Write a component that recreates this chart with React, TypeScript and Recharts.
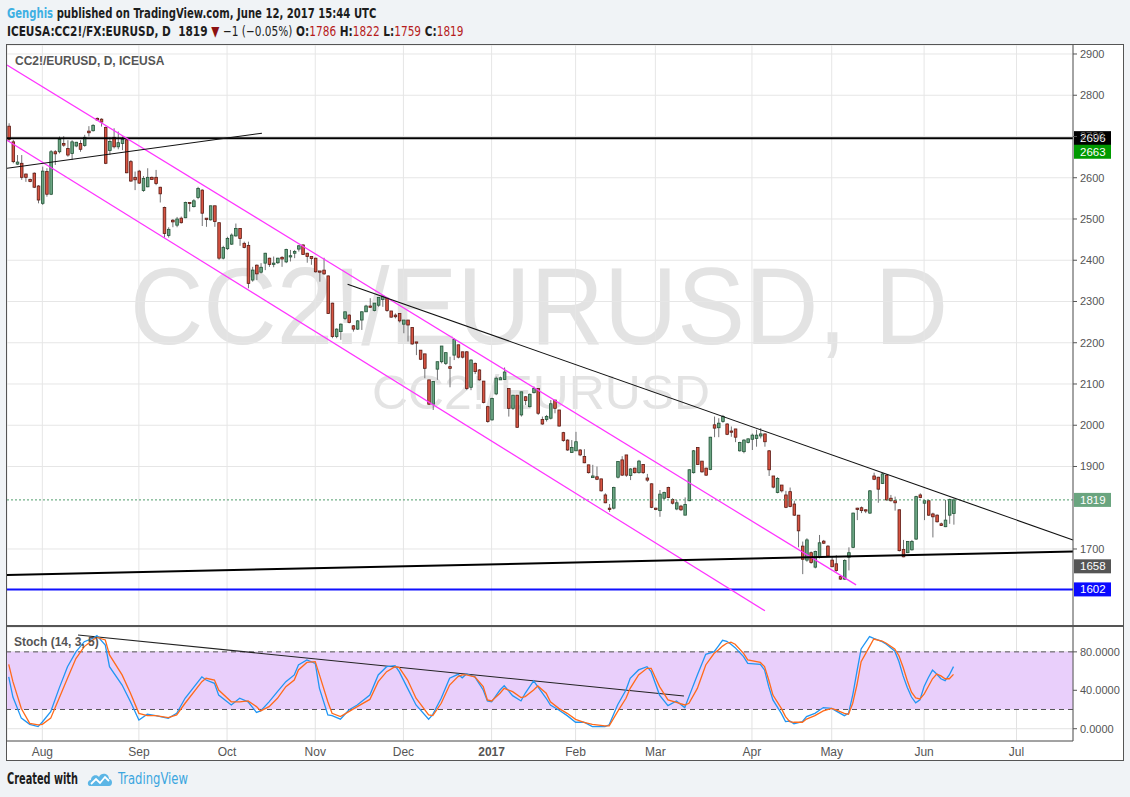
import React from 'react';
import { ComposedChart, Bar, Line, XAxis, YAxis, CartesianGrid, ReferenceLine, ReferenceArea } from 'recharts';

// Daily candles, index 0 = 20 Jul 2016, index 225 = 12 Jun 2017
const candleOpen = [
  2725, 2687, 2633, 2635, 2609, 2596, 2611, 2580, 2538, 2615,
  2560, 2663, 2663, 2683, 2671, 2659, 2677, 2683, 2678, 2713,
  2714, 2744, 2742, 2722, 2666, 2698, 2675, 2683, 2692, 2639,
  2601, 2616, 2569, 2578, 2601, 2601, 2577, 2528, 2460, 2497,
  2485, 2502, 2503, 2540, 2530, 2552, 2570, 2502, 2498, 2532,
  2491, 2405, 2428, 2439, 2459, 2477, 2441, 2436, 2352, 2388,
  2371, 2393, 2405, 2390, 2394, 2407, 2396, 2408, 2417, 2427,
  2437, 2417, 2409, 2405, 2374, 2376, 2362, 2296, 2215, 2227,
  2259, 2267, 2241, 2233, 2255, 2275, 2289, 2278, 2291, 2305,
  2308, 2277, 2267, 2271, 2245, 2255, 2237, 2202, 2182, 2173,
  2110, 2051, 2136, 2154, 2150, 2142, 2170, 2195, 2178, 2178,
  2092, 2150, 2134, 2107, 2045, 2013, 2076, 2110, 2111, 2089,
  2041, 2073, 2025, 2069, 2045, 2079, 2089, 2014, 2014, 2017,
  2061, 2037, 1982, 1964, 1934, 1938, 1940, 1924, 1904, 1873,
  1875, 1870, 1831, 1799, 1799, 1874, 1916, 1928, 1878, 1896,
  1885, 1905, 1872, 1858, 1799, 1793, 1823, 1849, 1820, 1797,
  1804, 1782, 1817, 1885, 1946, 1913, 1896, 1893, 2001, 1994,
  2009, 2003, 1986, 1991, 1938, 1936, 1958, 1966, 1968, 1974,
  1979, 1938, 1877, 1837, 1855, 1831, 1839, 1809, 1782, 1707,
  1673, 1691, 1656, 1681, 1719, 1707, 1673, 1664, 1633, 1627,
  1680, 1704, 1799, 1800, 1795, 1787, 1877, 1874, 1859, 1879,
  1823, 1817, 1795, 1699, 1691, 1698, 1724, 1831, 1811, 1817,
  1785, 1782, 1761, 1754, 1782, 1786,
];
const candleHigh = [
  2732, 2692, 2655, 2655, 2610, 2598, 2613, 2582, 2627, 2623,
  2667, 2667, 2700, 2701, 2691, 2691, 2687, 2691, 2704, 2725,
  2730, 2746, 2744, 2724, 2698, 2720, 2712, 2700, 2696, 2643,
  2615, 2619, 2604, 2623, 2603, 2619, 2578, 2530, 2480, 2500,
  2505, 2506, 2542, 2540, 2548, 2578, 2572, 2502, 2532, 2532,
  2491, 2435, 2457, 2465, 2489, 2477, 2445, 2445, 2384, 2390,
  2393, 2418, 2406, 2409, 2406, 2410, 2428, 2425, 2425, 2437,
  2439, 2418, 2409, 2406, 2374, 2406, 2363, 2297, 2235, 2247,
  2275, 2269, 2243, 2255, 2276, 2292, 2308, 2296, 2310, 2316,
  2308, 2277, 2271, 2271, 2255, 2255, 2237, 2202, 2182, 2173,
  2110, 2106, 2154, 2192, 2176, 2166, 2211, 2195, 2178, 2180,
  2160, 2152, 2136, 2107, 2047, 2067, 2118, 2118, 2140, 2089,
  2073, 2073, 2081, 2071, 2077, 2094, 2089, 2021, 2025, 2061,
  2061, 2037, 1984, 1966, 1964, 1984, 1942, 1942, 1904, 1904,
  1900, 1870, 1835, 1809, 1851, 1912, 1925, 1928, 1896, 1897,
  1916, 1905, 1882, 1859, 1800, 1843, 1839, 1851, 1823, 1819,
  1807, 1825, 1893, 1940, 1946, 1913, 1897, 1972, 2021, 2017,
  2025, 2005, 1997, 1991, 1960, 1966, 1968, 1980, 1989, 1993,
  1980, 1940, 1877, 1874, 1855, 1841, 1849, 1817, 1782, 1718,
  1726, 1694, 1696, 1734, 1722, 1709, 1681, 1685, 1635, 1675,
  1704, 1788, 1800, 1803, 1796, 1843, 1885, 1875, 1884, 1881,
  1831, 1827, 1796, 1722, 1719, 1722, 1829, 1835, 1819, 1819,
  1788, 1784, 1764, 1819, 1822, 1822,
];
const candleLow = [
  2687, 2635, 2631, 2595, 2590, 2589, 2575, 2538, 2534, 2554,
  2558, 2631, 2659, 2675, 2651, 2643, 2674, 2663, 2675, 2700,
  2712, 2738, 2724, 2633, 2655, 2671, 2669, 2667, 2611, 2590,
  2570, 2585, 2566, 2577, 2595, 2582, 2540, 2455, 2455, 2480,
  2480, 2489, 2502, 2518, 2528, 2548, 2483, 2481, 2496, 2481,
  2401, 2402, 2425, 2437, 2457, 2435, 2429, 2332, 2348, 2352,
  2368, 2376, 2384, 2383, 2391, 2384, 2393, 2397, 2405, 2421,
  2413, 2394, 2389, 2370, 2348, 2364, 2270, 2211, 2211, 2207,
  2255, 2247, 2227, 2231, 2231, 2275, 2284, 2276, 2287, 2287,
  2275, 2261, 2259, 2249, 2223, 2203, 2195, 2170, 2158, 2114,
  2049, 2037, 2110, 2150, 2146, 2092, 2158, 2162, 2162, 2085,
  2085, 2124, 2108, 2053, 2006, 2011, 2073, 2110, 2110, 2021,
  2037, 1994, 2021, 2049, 2043, 2077, 2025, 2001, 2009, 2014,
  2029, 1997, 1960, 1938, 1933, 1938, 1925, 1908, 1883, 1873,
  1867, 1839, 1811, 1790, 1796, 1871, 1877, 1875, 1867, 1883,
  1883, 1882, 1863, 1799, 1794, 1778, 1820, 1823, 1808, 1794,
  1792, 1782, 1816, 1883, 1904, 1885, 1877, 1891, 1971, 1971,
  2006, 1976, 1972, 1959, 1936, 1932, 1956, 1940, 1948, 1968,
  1948, 1877, 1847, 1835, 1837, 1799, 1801, 1780, 1704, 1639,
  1669, 1664, 1653, 1677, 1712, 1681, 1656, 1645, 1625, 1625,
  1648, 1702, 1770, 1787, 1787, 1785, 1867, 1812, 1858, 1817,
  1815, 1793, 1694, 1680, 1690, 1696, 1722, 1823, 1770, 1780,
  1728, 1764, 1756, 1753, 1761, 1759,
];
const candleClose = [
  2693, 2639, 2638, 2601, 2601, 2591, 2577, 2546, 2616, 2560,
  2663, 2658, 2693, 2679, 2655, 2687, 2686, 2669, 2698, 2709,
  2727, 2740, 2735, 2635, 2688, 2675, 2685, 2693, 2612, 2592,
  2595, 2587, 2598, 2601, 2596, 2586, 2561, 2465, 2475, 2493,
  2500, 2491, 2540, 2538, 2544, 2574, 2514, 2499, 2532, 2494,
  2405, 2431, 2453, 2461, 2477, 2453, 2431, 2344, 2376, 2367,
  2383, 2417, 2390, 2393, 2405, 2403, 2426, 2411, 2421, 2435,
  2414, 2409, 2404, 2372, 2371, 2367, 2271, 2215, 2233, 2245,
  2275, 2249, 2233, 2253, 2275, 2289, 2286, 2296, 2310, 2313,
  2278, 2262, 2263, 2253, 2255, 2243, 2197, 2199, 2160, 2138,
  2051, 2106, 2154, 2192, 2176, 2138, 2208, 2165, 2165, 2089,
  2158, 2130, 2110, 2055, 2009, 2065, 2114, 2115, 2129, 2041,
  2073, 1995, 2081, 2060, 2075, 2089, 2029, 2003, 2021, 2052,
  2041, 1998, 1963, 1940, 1946, 1960, 1928, 1909, 1885, 1877,
  1869, 1841, 1812, 1796, 1849, 1912, 1879, 1879, 1894, 1885,
  1913, 1885, 1867, 1801, 1796, 1833, 1837, 1825, 1811, 1812,
  1795, 1808, 1892, 1938, 1905, 1887, 1879, 1971, 1993, 2005,
  2021, 1978, 1983, 1971, 1958, 1964, 1967, 1976, 1976, 1979,
  1960, 1892, 1850, 1871, 1841, 1801, 1803, 1782, 1744, 1675,
  1722, 1667, 1694, 1715, 1714, 1683, 1657, 1648, 1627, 1672,
  1691, 1787, 1796, 1793, 1792, 1841, 1869, 1845, 1882, 1819,
  1817, 1812, 1696, 1681, 1718, 1718, 1827, 1825, 1817, 1782,
  1778, 1766, 1757, 1770, 1820, 1819,
];

// Stochastic (14, 3, 5)
const stochIdx = [
  0, 1, 3, 5, 7, 8, 10, 12, 14, 16, 18, 20, 21, 23, 24, 27, 29, 31, 33, 35,
  38, 40, 42, 46, 47, 49, 50, 53, 55, 57, 59, 60, 62, 64, 66, 68, 69, 71, 73, 74,
  76, 77, 79, 81, 83, 86, 88, 90, 92, 93, 95, 97, 100, 101, 103, 105, 107, 108, 109, 111,
  113, 114, 115, 117, 118, 120, 122, 123, 125, 126, 128, 129, 131, 133, 135, 137, 139, 142, 143, 145,
  147, 148, 150, 152, 153, 155, 157, 159, 161, 162, 164, 166, 168, 169, 170, 171, 172, 173, 175, 176,
  179, 180, 181, 182, 184, 185, 186, 187, 189, 190, 192, 194, 196, 197, 199, 200, 201, 202, 203, 205,
  206, 208, 209, 211, 212, 213, 214, 215, 216, 217, 218, 219, 220, 221, 222, 223, 224, 225,
];
const stochK = [
  54, 33, 11, 4.6, 2.2, 7, 17.8, 42, 64.6, 80, 90.6, 94, 97, 87, 64.6, 45.5, 28, 9, 15, 13.6,
  10.8, 16, 31.7, 54, 50.7, 47.3, 35, 24.7, 31.7, 28, 17, 18.5, 28, 38.6, 49, 56, 66.4, 71.6, 68, 42,
  14.3, 13.6, 10, 19.5, 24.7, 35, 56, 64.6, 65.7, 59.4, 42, 24.7, 9.8, 15, 31.7, 52.5, 56.6, 53, 57, 54,
  40.3, 28.9, 28, 40.3, 44.8, 34.4, 28.9, 36.9, 49.7, 43.8, 31.7, 24.7, 19.5, 13.6, 6.7, 6.7, 2.2, 2.2, 4, 24.7,
  40.3, 52.5, 61.2, 64.6, 59.4, 35, 24, 28.9, 22, 33.4, 56, 77.5, 80.2, 86, 92, 91, 88, 84.4, 75, 68,
  67, 61.2, 43.8, 30, 16, 7.4, 8, 5, 7.4, 12.6, 16, 22, 21.2, 18.5, 13.6, 16, 35, 59.4, 83, 95.9,
  94, 90.6, 88, 81, 70, 55, 43, 33, 27, 30, 44, 53, 61, 57, 52, 50, 56, 64.6,
];
const stochD = [
  67, 49, 21, 5.6, 4, 4.6, 11, 31.7, 52.5, 73, 85.5, 92.4, 95, 92.4, 76.8, 56, 36.9, 16, 13.6, 13.6,
  11.5, 14.3, 26.5, 49, 52.5, 50.7, 40.3, 28, 28, 28.9, 23, 18.5, 23, 31.7, 43.8, 50.7, 61.2, 69, 69.8, 56,
  28, 16, 12.6, 17.8, 23, 30.5, 49, 59.4, 64.6, 63.6, 50.7, 31.7, 14.3, 13.6, 26.5, 45.5, 54.2, 56, 56, 54,
  43.8, 30, 28.9, 36.9, 42, 38.6, 32.4, 33.4, 40.3, 44.5, 36.9, 28, 21.2, 16, 9.8, 6.7, 4.6, 2.9, 2.9, 17.8,
  31.7, 42, 56, 62.9, 62.9, 43.8, 30, 27.5, 24.7, 26.5, 42, 66.4, 78.5, 82, 86, 89, 90, 88, 78.5, 71.6,
  69, 64.6, 50.7, 35, 21.2, 12.6, 7.4, 6.7, 6.7, 10, 13.6, 18.5, 21.2, 19.5, 16, 15, 26.5, 45.5, 69.8, 85.5,
  93.4, 91.3, 89, 83, 76, 64, 50, 38, 32, 31, 36, 44, 52, 57, 55, 52, 52, 56.6,
];

const monthIdx = [8, 31, 52, 73, 94, 115, 135, 154, 177, 196, 218, 240];
const monthLabels = ['Aug', 'Sep', 'Oct', 'Nov', 'Dec', '2017', 'Feb', 'Mar', 'Apr', 'May', 'Jun', 'Jul'];
const priceTicks = [1700, 1900, 2000, 2100, 2200, 2300, 2400, 2500, 2600, 2700, 2800, 2900];
const stochTicks = [0, 40, 80];

// drawn trendlines: [x1, y1, x2, y2] in bar index / price
const magentaLines = [
  [-0.41, 2873, 201.8, 1613],
  [-0.41, 2691, 180.1, 1550],
];
const blackThinLines = [
  [-0.41, 2623, 60.3, 2708],
  [80.7, 2342, 253.46, 1722],
];
const blackThickLine = [-0.41, 1637, 253.46, 1694];
const stochTrend = [16.5, 97.6, 160.8, 34];

const candles = candleOpen.map((o, i) => ({
  i,
  open: o,
  high: candleHigh[i],
  low: candleLow[i],
  close: candleClose[i],
}));
const stoch = stochIdx.map((i, n) => ({ i, k: stochK[n], d: stochD[n] }));

const X_DOMAIN: [number, number] = [-0.41, 253.46];
const PRICE_DOMAIN: [number, number] = [1513.3, 2921.8];
const STOCH_DOMAIN: [number, number] = [-12.8, 105.9];

const UI_FONT = "'Liberation Sans', Arial, sans-serif";
const NARROW_FONT = "'Liberation Sans Narrow', 'DejaVu Sans Condensed', sans-serif";

const Candle = (props: any) => {
  const { x, y, width, height, payload } = props;
  if (!payload) return null;
  const { open, close, high, low } = payload;
  const cx = x + width / 2;
  const h = Math.abs(height);
  const top = height >= 0 ? y : y + height;
  const ratio = high === low ? 0 : h / (high - low);
  const yOpen = top + (high - open) * ratio;
  const yClose = top + (high - close) * ratio;
  const up = close >= open;
  const bodyTop = Math.min(yOpen, yClose);
  const bodyH = Math.max(1, Math.abs(yOpen - yClose));
  return (
    <g>
      <line x1={cx} x2={cx} y1={top} y2={top + h} stroke="#737375" strokeWidth={1} />
      <rect
        x={cx - 1.3}
        y={bodyTop}
        width={2.6}
        height={bodyH}
        fill={up ? '#6ba583' : '#d75442'}
        stroke={up ? '#225437' : '#5b1a13'}
        strokeWidth={0.8}
      />
    </g>
  );
};

const PriceTag = (props: any) => {
  const { viewBox, text, bg } = props;
  if (!viewBox) return null;
  const x = viewBox.x + viewBox.width;
  const y = viewBox.y;
  return (
    <g>
      <rect x={x + 1} y={y - 7} width={37} height={14} fill={bg} />
      <text x={x + 7} y={y + 4} fill="#fff" fontSize={11.5} fontFamily={UI_FONT}>
        {text}
      </text>
    </g>
  );
};

const MonthTick = (props: any) => {
  const { x, y, payload } = props;
  const label = monthLabels[monthIdx.indexOf(payload.value)];
  return (
    <text
      x={x}
      y={y}
      dy={15}
      textAnchor="middle"
      fill="#555"
      fontSize={12}
      fontFamily={UI_FONT}
      fontWeight={label === '2017' ? 700 : 400}
    >
      {label}
    </text>
  );
};

const seg = (l: number[]) => [
  { x: l[0], y: l[1] },
  { x: l[2], y: l[3] },
];

const RED = '#b71c1c';
const headerStyle: React.CSSProperties = {
  position: 'absolute',
  left: 7,
  fontFamily: NARROW_FONT,
  fontSize: 14,
  fontWeight: 700,
  color: '#1d1d1d',
  whiteSpace: 'nowrap',
  transformOrigin: 'left top',
  lineHeight: '18px',
};

const App = () => {
  return (
    <div style={{ position: 'absolute', left: 0, top: 0, width: 1130, height: 797, background: '#f0f3f6', overflow: 'hidden' }}>
      {/* header */}
      <div style={{ ...headerStyle, top: 4, transform: 'scaleX(0.8)' }}>
        <span style={{ color: '#3fb0e3' }}>Genghis</span> published on TradingView.com, June 12, 2017 15:44 UTC
      </div>
      <div style={{ ...headerStyle, top: 22, transform: 'scaleX(0.837)' }}>
        ICEUSA:CC2!/FX:EURUSD, D&nbsp; 1819 <span style={{ color: '#8b1010' }}>▼</span>{' '}
        <span style={{ fontWeight: 400 }}>−1 (−0.05%)</span> O:<span style={{ color: RED, fontWeight: 400 }}>1786</span> H:
        <span style={{ color: RED, fontWeight: 400 }}>1822</span> L:<span style={{ color: RED, fontWeight: 400 }}>1759</span> C:
        <span style={{ color: RED, fontWeight: 400 }}>1819</span>
      </div>

      {/* chart frame */}
      <div style={{ position: 'absolute', left: 6, top: 44, width: 1118, height: 717, background: '#fff', border: '1px solid #555', boxSizing: 'border-box' }} />

      {/* watermark */}
      <svg width={1130} height={797} style={{ position: 'absolute', left: 0, top: 0 }}>
        <text x={130} y={344} fontSize={109} fontFamily={UI_FONT} fill="#e3e3e3" textLength={818} lengthAdjust="spacingAndGlyphs">
          CC2!/EURUSD, D
        </text>
        <text x={372} y={409} fontSize={47.5} fontFamily={UI_FONT} fill="#e3e3e3" textLength={338} lengthAdjust="spacingAndGlyphs">
          CC2!/EURUSD
        </text>
      </svg>

      {/* price pane */}
      <div style={{ position: 'absolute', left: 7, top: 45 }}>
        <ComposedChart width={1116} height={581} data={candles} margin={{ top: 0, right: 0, bottom: 0, left: 0 }}>
          <CartesianGrid stroke="#e6e6e6" />
          <XAxis dataKey="i" type="number" domain={X_DOMAIN} ticks={monthIdx} allowDataOverflow hide />
          <YAxis
            orientation="right"
            width={50}
            domain={PRICE_DOMAIN}
            ticks={priceTicks}
            interval={0}
            allowDataOverflow
            stroke="#555"
            tickSize={4}
            tickMargin={3}
            tick={{ fill: '#555', fontSize: 11, fontFamily: UI_FONT }}
          />
          <ReferenceLine y={2696} stroke="#000" strokeWidth={2} label={<PriceTag text="2696" bg="#000" />} />
          <ReferenceLine y={2663} stroke="transparent" label={<PriceTag text="2663" bg="#009a00" />} />
          <ReferenceLine y={1819} stroke="#4f9d6c" strokeDasharray="2 2" label={<PriceTag text="1819" bg="#6aa57f" />} />
          <ReferenceLine y={1658} stroke="transparent" label={<PriceTag text="1658" bg="#555" />} />
          <ReferenceLine y={1602} stroke="#1010ff" strokeWidth={2} label={<PriceTag text="1602" bg="#0a0aff" />} />
          {magentaLines.map((l, n) => (
            <ReferenceLine key={`m${n}`} segment={seg(l)} stroke="#ff33ff" strokeWidth={1.2} ifOverflow="visible" />
          ))}
          {blackThinLines.map((l, n) => (
            <ReferenceLine key={`b${n}`} segment={seg(l)} stroke="#111" strokeWidth={1.1} ifOverflow="visible" />
          ))}
          <ReferenceLine segment={seg(blackThickLine)} stroke="#000" strokeWidth={2} ifOverflow="visible" />
          <Bar
            dataKey={(d: any) => [d.low, d.high]}
            shape={(p: any) => <Candle {...p} />}
            isAnimationActive={false}
            barSize={3}
          />
        </ComposedChart>
      </div>

      {/* stochastic pane */}
      <div style={{ position: 'absolute', left: 7, top: 627 }}>
        <ComposedChart width={1116} height={133} data={stoch} margin={{ top: 0, right: 0, bottom: 0, left: 0 }}>
          <ReferenceArea y1={20} y2={80} fill="#e9cffb" fillOpacity={1} stroke="none" />
          <CartesianGrid stroke="#e2e2e2" />
          <XAxis
            dataKey="i"
            type="number"
            domain={X_DOMAIN}
            ticks={monthIdx}
            interval={0}
            allowDataOverflow
            height={19}
            stroke="#555"
            tickLine={false}
            tickSize={0}
            tickMargin={0}
            tick={<MonthTick />}
          />
          <YAxis
            orientation="right"
            width={50}
            domain={STOCH_DOMAIN}
            ticks={stochTicks}
            interval={0}
            allowDataOverflow
            stroke="#555"
            tickSize={4}
            tickMargin={3}
            tick={{ fill: '#555', fontSize: 11, fontFamily: UI_FONT }}
            tickFormatter={(v: number) => v.toFixed(4)}
          />
          <ReferenceLine y={80} stroke="#555" strokeDasharray="5 4" />
          <ReferenceLine y={20} stroke="#555" strokeDasharray="5 4" />
          <ReferenceLine segment={seg(stochTrend)} stroke="#222" strokeWidth={1.1} ifOverflow="visible" />
          <Line dataKey="k" type="linear" stroke="#2196f3" strokeWidth={1.3} dot={false} isAnimationActive={false} />
          <Line dataKey="d" type="linear" stroke="#ff6a1a" strokeWidth={1.3} dot={false} isAnimationActive={false} />
        </ComposedChart>
      </div>

      {/* pane separator */}
      <div style={{ position: 'absolute', left: 6, top: 625, width: 1118, height: 2, background: '#555' }} />

      {/* pane titles */}
      <div style={{ position: 'absolute', left: 15, top: 54, fontFamily: UI_FONT, fontSize: 12, fontWeight: 700, color: '#555' }}>
        CC2!/EURUSD, D, ICEUSA
      </div>
      <div style={{ position: 'absolute', left: 14, top: 635, fontFamily: UI_FONT, fontSize: 12, fontWeight: 700, color: '#555' }}>
        Stoch (14, 3, 5)
      </div>

      {/* footer */}
      <svg width={220} height={26} style={{ position: 'absolute', left: 0, top: 766 }}>
        <text x={7} y={18} fontFamily={NARROW_FONT} fontSize={15} fontWeight={700} fill="#1d1d1d" textLength={71} lengthAdjust="spacingAndGlyphs">
          Created with
        </text>
        <path d="M90 20 C87 20 87 14 91 14 C91 9 97 8 99 11 C101 6 109 7 109 13 C113 13 113 20 109 20 Z" fill="#5cb6e6" />
        <polyline points="91,18 96,13 100,17 105,11 109,15" fill="none" stroke="#fff" strokeWidth={1.8} />
        <text x={118} y={18} fontFamily={NARROW_FONT} fontSize={15} fill="#3ba6df" textLength={70} lengthAdjust="spacingAndGlyphs">
          TradingView
        </text>
      </svg>
    </div>
  );
};

export default App;
